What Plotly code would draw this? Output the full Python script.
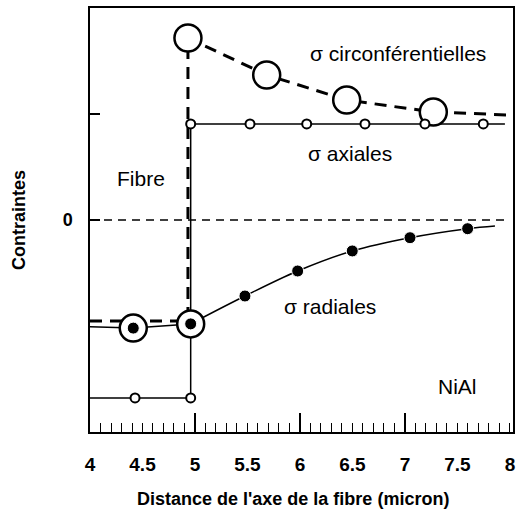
import plotly.graph_objects as go

# ---- data (x: distance in micron, y: stress in arbitrary units) ----
circ_line_x = [4.0, 4.933, 4.933, 5.683, 6.445, 7.27, 8.0]
circ_line_y = [-0.953, -0.953, 1.717, 1.368, 1.132, 1.019, 0.99]
circ_pts_x = [4.412, 4.959, 4.933, 5.683, 6.445, 7.27]
circ_pts_y = [-1.02, -0.98, 1.717, 1.368, 1.132, 1.019]

axial_x = [4.0, 4.429, 4.959, 4.959, 5.524, 6.064, 6.619, 7.19, 7.746, 7.952]
axial_y = [-1.679, -1.679, -1.679, 0.906, 0.906, 0.906, 0.906, 0.906, 0.906, 0.906]
axial_pts_x = [4.429, 4.959, 4.959, 5.524, 6.064, 6.619, 7.19, 7.746]
axial_pts_y = [-1.679, -1.679, 0.906, 0.906, 0.906, 0.906, 0.906, 0.906]

radial_fibre_x = [4.0, 4.412, 4.959]
radial_fibre_y = [-1.007, -1.02, -0.98]
radial_x = [4.959, 5.476, 5.978, 6.498, 7.048, 7.597, 7.857]
radial_y = [-0.98, -0.717, -0.481, -0.292, -0.167, -0.082, -0.057]
radial_pts_x = [4.412, 4.959, 5.476, 5.978, 6.498, 7.048, 7.597]
radial_pts_y = [-1.02, -0.98, -0.717, -0.481, -0.292, -0.167, -0.082]

zero_x = [4.0, 8.0]
zero_y = [0, 0]

x_major = [5, 6, 7]
x_ticks = [4, 4.5, 5, 5.5, 6, 6.5, 7, 7.5, 8]
x_ticktext = ["4", "4.5", "5", "5.5", "6", "6.5", "7", "7.5", "8"]

FONT = "Liberation Sans, Arial, sans-serif"
XR = [4, 8.029]

fig = go.Figure()
fig.add_trace(go.Scatter(x=zero_x, y=zero_y, mode="lines",
                         line=dict(color="black", width=1.5, dash="8px,6px")))
fig.add_trace(go.Scatter(x=circ_line_x, y=circ_line_y, mode="lines",
                         line=dict(color="black", width=3, dash="12px,8px")))
fig.add_trace(go.Scatter(x=axial_x, y=axial_y, mode="lines",
                         line=dict(color="black", width=1.5)))
fig.add_trace(go.Scatter(x=radial_fibre_x, y=radial_fibre_y, mode="lines",
                         line=dict(color="black", width=1.5)))
fig.add_trace(go.Scatter(x=radial_x, y=radial_y, mode="lines",
                         line=dict(color="black", width=1.5, shape="spline")))
fig.add_trace(go.Scatter(x=circ_pts_x, y=circ_pts_y, mode="markers",
                         marker=dict(symbol="circle", size=27, color="white",
                                     line=dict(color="black", width=2.5))))
fig.add_trace(go.Scatter(x=axial_pts_x, y=axial_pts_y, mode="markers",
                         marker=dict(symbol="circle", size=9, color="white",
                                     line=dict(color="black", width=2))))
fig.add_trace(go.Scatter(x=radial_pts_x, y=radial_pts_y, mode="markers",
                         marker=dict(symbol="circle", size=12, color="black",
                                     line=dict(color="white", width=1))))
fig.add_trace(go.Scatter(x=XR, y=[0, 0], mode="markers", xaxis="x2",
                         marker=dict(opacity=0), hoverinfo="skip"))

ann_font = dict(family=FONT, size=21, color="black")
annotations = [
    dict(x=6.929, y=1.575, text="σ circonférentielles"),
    dict(x=6.476, y=0.632, text="σ axiales"),
    dict(x=6.286, y=-0.82, text="σ radiales"),
    dict(x=4.486, y=0.396, text="Fibre"),
    dict(x=7.505, y=-1.575, text="NiAl"),
]
for a in annotations:
    a.update(xref="x", yref="y", showarrow=False, font=ann_font)

title_font = dict(family=FONT, size=18, color="black", weight="bold")
annotations += [
    dict(xref="paper", yref="paper", x=0.48, y=-0.157, text="Distance de l'axe de la fibre (micron)",
         showarrow=False, font=title_font, xanchor="center", yanchor="middle"),
    dict(xref="paper", yref="paper", x=-0.168, y=0.5, text="Contraintes", textangle=-90,
         showarrow=False, font=title_font, xanchor="center", yanchor="middle"),
]

fig.update_layout(
    width=517, height=517,
    margin=dict(l=90, r=4, t=8, b=85),
    paper_bgcolor="white", plot_bgcolor="white",
    showlegend=False,
    font=dict(family=FONT, color="black"),
    annotations=annotations,
    xaxis=dict(
        range=XR, showgrid=False, zeroline=False, automargin=False,
        showline=True, linecolor="black", linewidth=1.5, mirror=True,
        tickvals=x_ticks, ticktext=x_ticktext,
        ticks="inside", ticklen=9, tickwidth=1.2, tickcolor="black",
        minor=dict(dtick=0.1, ticks="inside", ticklen=9, tickwidth=1.2, tickcolor="black"),
        tickfont=dict(family=FONT, size=19, color="black", weight="bold"),
        ticklabelstandoff=14,
    ),
    xaxis2=dict(
        range=XR, overlaying="x", side="bottom", showgrid=False, zeroline=False,
        automargin=False, showline=False, tickvals=x_major, ticks="inside",
        ticklen=19, tickwidth=1.5, tickcolor="black", showticklabels=False,
    ),
    yaxis=dict(
        range=[-2, 2], showgrid=False, zeroline=False, automargin=False,
        showline=True, linecolor="black", linewidth=1.5, mirror=True,
        tickvals=[0, 1], ticktext=["0", ""],
        ticks="inside", ticklen=10, tickwidth=1.5, tickcolor="black",
        tickfont=dict(family=FONT, size=18, color="black", weight="bold"),
        ticklabelstandoff=12,
    ),
)

fig.write_html(
    "out.html",
    config={"displayModeBar": False},
    post_script="document.body.style.margin='0';document.body.style.overflow='hidden';",
)
